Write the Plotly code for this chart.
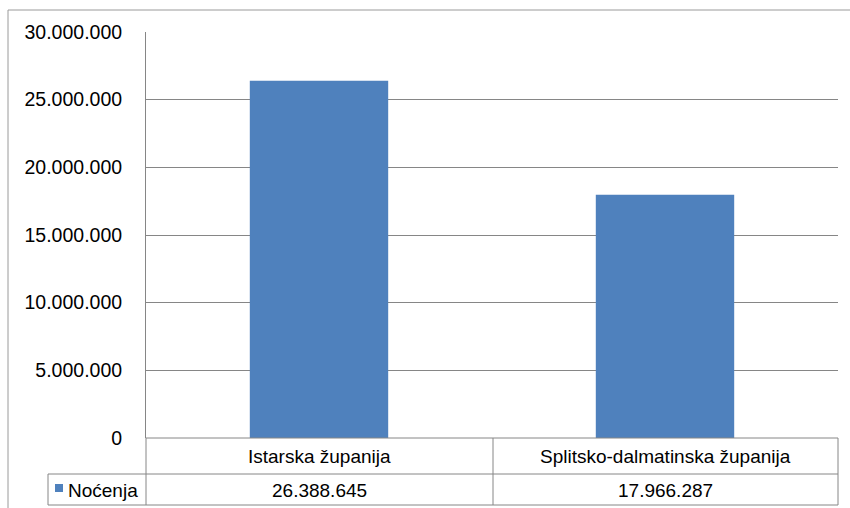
import plotly.graph_objects as go

categories = ["Istarska županija", "Splitsko-dalmatinska županija"]
series_name = "Noćenja"
values = [26388645, 17966287]
tick_values = [0, 5000000, 10000000, 15000000, 20000000, 25000000, 30000000]

W, H = 850, 508
BAR = "#4F81BD"
LINE = "#868686"
FONT = "Liberation Sans, Arial, sans-serif"

def px(x):
    return x / W

def py(y):
    return (H - y) / H

# plot area pixels
L, R, T, B = 146, 838, 32, 438

fig = go.Figure()
fig.add_trace(go.Bar(x=categories, y=values, marker=dict(color=BAR, line=dict(width=0)),
                     width=0.4, name=series_name, showlegend=False, hoverinfo="x+y"))

fig.update_layout(
    width=W, height=H,
    margin=dict(l=0, r=0, t=0, b=0, pad=0, autoexpand=False),
    paper_bgcolor="white", plot_bgcolor="white",
    separators=",.",
    showlegend=False,
    font=dict(family=FONT, size=19, color="#000000"),
    xaxis=dict(domain=[px(L), px(R)], range=[-0.5, 1.5], showticklabels=False,
               showgrid=False, zeroline=False, showline=False, ticks="", automargin=False),
    yaxis=dict(domain=[py(B), py(T)], range=[0, 30000000], tickvals=tick_values,
               tickformat=",d", showgrid=True, gridcolor=LINE, gridwidth=1,
               zeroline=False, showline=True, linecolor=LINE, linewidth=1,
               ticks="", ticklabelstandoff=19, automargin=False,
               tickfont=dict(family=FONT, size=19.5, color="#000000")),
    bargap=0.6,
)

shapes = []
def line(x0, y0, x1, y1, color=LINE):
    shapes.append(dict(type="line", xref="paper", yref="paper",
                       x0=px(x0), y0=py(y0), x1=px(x1), y1=py(y1),
                       line=dict(color=color, width=1)))

# outer chart border
line(8, 10, 850, 10, "#9a9a9a")
line(8, 10, 8, 508, "#9a9a9a")
# data table
line(L, B, R, B)
line(48, 474, R, 474)
line(48, 505, R, 505)
line(L, B, L, 505)
line(493, B, 493, 505)
line(R, B, R, 505)
line(48, 474, 48, 505)
# legend key
shapes.append(dict(type="rect", xref="paper", yref="paper",
                   x0=px(55), x1=px(63), y0=py(492), y1=py(484),
                   fillcolor=BAR, line=dict(width=0)))
fig.update_layout(shapes=shapes)

ann = []
for c, v in zip(categories, values):
    ann.append(dict(x=c, xref="x", y=py(456), yref="paper", text=c, showarrow=False,
                    xanchor="center", yanchor="middle", font=dict(size=19)))
    ann.append(dict(x=c, xref="x", y=py(490), yref="paper",
                    text=f"{v:,}".replace(",", "."), showarrow=False,
                    xanchor="center", yanchor="middle", font=dict(size=19)))
ann.append(dict(x=px(66), xref="paper", y=py(490), yref="paper", text=series_name,
                showarrow=False, xanchor="left", yanchor="middle", font=dict(size=19)))
fig.update_layout(annotations=ann)

fig.write_html("out.html", config={"displayModeBar": False},
               post_script="document.body.style.margin='0';document.body.style.overflow='hidden';")
